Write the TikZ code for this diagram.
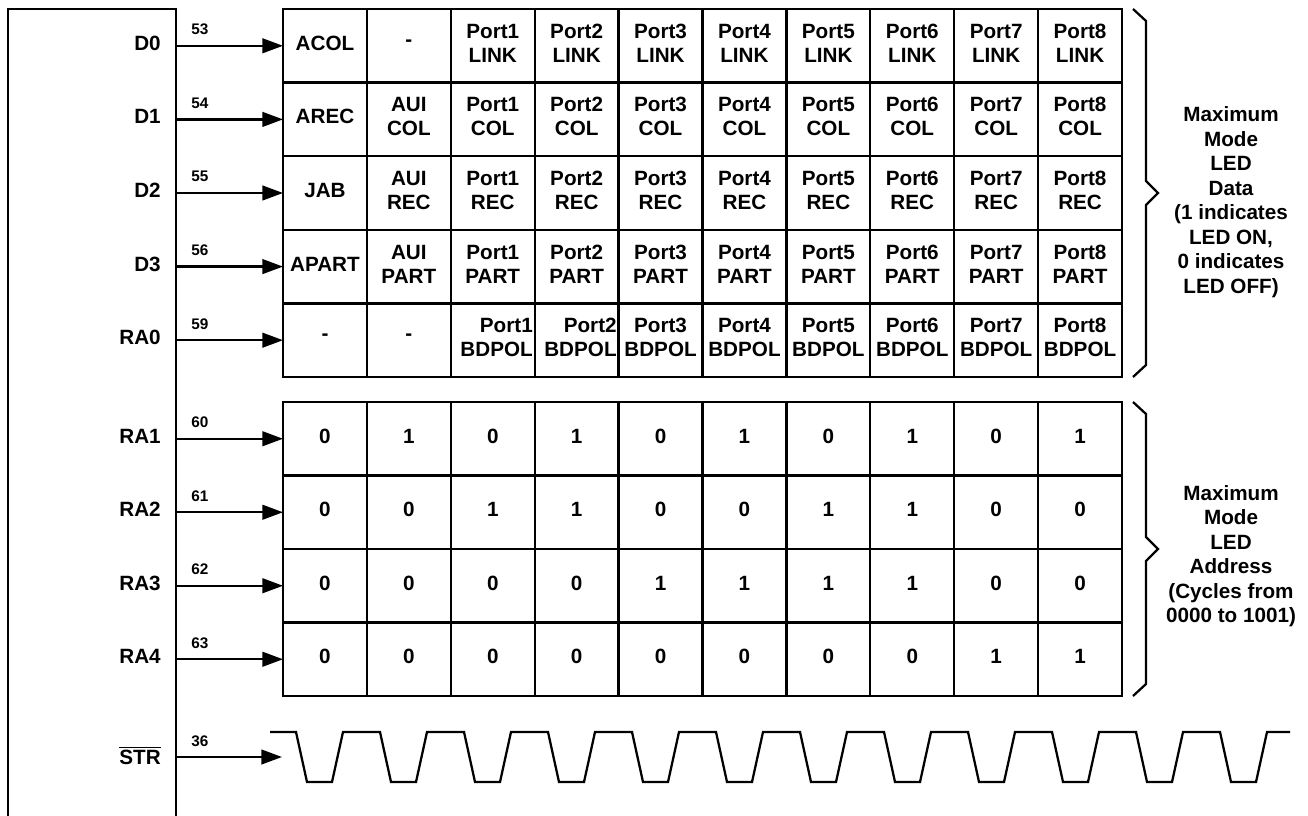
\documentclass[tikz,border=0pt]{standalone}
\usepackage{fontspec}
\setmainfont{Liberation Sans}
\usetikzlibrary{arrows.meta}

\tikzset{
  cell/.style={draw, line width=1.7pt, minimum width=62.925pt, minimum height=55.2pt,
    inner sep=0pt, outer sep=0pt, text depth=4pt, align=center, font=\fontsize{15.5}{18}\selectfont\bfseries},
  pinname/.style={anchor=base east, inner sep=0pt, font=\fontsize{15.5}{18}\selectfont\bfseries},
  pinnum/.style={anchor=base west, inner sep=0pt, font=\fontsize{11.5}{13}\selectfont\bfseries},
  sig/.style={line width=1.7pt, -{Triangle[length=15.5pt,width=11pt]}},
  wire/.style={line width=1.7pt},
  note/.style={align=center, inner sep=0pt, font=\fontsize{15.5}{18.4}\selectfont\bfseries}
}

\begin{document}
\begin{tikzpicture}[x=0.75pt,y=0.75pt,yscale=-1,xscale=1]
\useasboundingbox (0,0) rectangle (1308,816);

%Shape: chip outline
\draw [wire] (8,816) -- (8,9) -- (176,9) -- (176,816);

%Table: LED data, rows D0 - D3
\foreach \r/\pin/\num/\ca/\cb/\sig in {1/D0/53/ACOL/-/LINK,2/D1/54/AREC/AUI\\COL/COL,3/D2/55/JAB/AUI\\REC/REC,4/D3/56/APART/AUI\\PART/PART}{
  \node [cell] (d-\r-1) at (324.95,{9+73.6*(\r-0.5)}) {\ca};
  \node [cell] (d-\r-2) at (408.85,{9+73.6*(\r-0.5)}) {\cb};
  \foreach \c [evaluate=\c as \x using 283+83.9*(\c+1.5)] in {1,...,8}
    \node [cell] (d-\r-\c-port) at (\x,{9+73.6*(\r-0.5)}) {Port\c\\\sig};
  % pin and arrow
  \coordinate (p-\pin) at (176,{9+73.6*(\r-0.5)});
  \node [pinname] (n-\pin) at (161,{9+73.6*(\r-0.5)+4.5}) {\pin};
  \node [pinnum] (num-\num) at (191,{9+73.6*(\r-0.5)-11}) {\num};
  \draw [sig] (p-\pin) -- (d-\r-1.west);
}

%Table: LED data, row RA0
\node [cell] (d-5-1) at (324.95,340.2) {-};
\node [cell] (d-5-2) at (408.85,340.2) {-};
\node [cell, text width=60pt, text depth=22pt, align=right] (d-5-1-port) at (492.75,340.2) {Port1\\BDPOL};
\node [cell, text width=60pt, text depth=22pt, align=right] (d-5-2-port) at (576.65,340.2) {Port2\\BDPOL};
\foreach \c [evaluate=\c as \x using 283+83.9*(\c+1.5)] in {3,...,8}
  \node [cell] (d-5-\c-port) at (\x,340.2) {Port\c\\BDPOL};
\coordinate (p-RA0) at (176,340.2);
\node [pinname] (n-RA0) at (161,344.7) {RA0};
\node [pinnum] (num-59) at (191,329.2) {59};
\draw [sig] (p-RA0) -- (d-5-1.west);

%Table: LED address, rows RA1 - RA4
\foreach \r/\pin/\num/\bits in {1/RA1/60/{0,1,0,1,0,1,0,1,0,1},2/RA2/61/{0,0,1,1,0,0,1,1,0,0},3/RA3/62/{0,0,0,0,1,1,1,1,0,0},4/RA4/63/{0,0,0,0,0,0,0,0,1,1}}{
  \foreach \b [count=\c, evaluate=\c as \x using 283+83.9*(\c-0.5)] in \bits
    \node [cell] (a-\r-\c) at (\x,{402+73.5*(\r-0.5)}) {\b};
  \coordinate (p-\pin) at (176,{402+73.5*(\r-0.5)});
  \node [pinname] (n-\pin) at (161,{402+73.5*(\r-0.5)+4.5}) {\pin};
  \node [pinnum] (num-\num) at (191,{402+73.5*(\r-0.5)-11}) {\num};
  \draw [sig] (p-\pin) -- (a-\r-1.west);
}

%Strobe input
\coordinate (p-STR) at (176,757);
\coordinate (strobe) at (282,757);
\node [pinname] (n-STR) at (161,764) {$\overline{\mbox{STR}}$};
\node [pinnum] (num-36) at (191,746) {36};
\draw [sig] (p-STR) -- (strobe);
%Waveform
\draw [wire] (270,732) foreach \k in {0,...,11} { -- ({296+84*\k},732) -- ({307+84*\k},782) -- ({332+84*\k},782) -- ({343+84*\k},732) } -- (1290,732);

%Braces
\draw [wire] (1133,9) -- (1146,21) -- (1146,181) -- (1158,193) -- (1146,205) -- (1146,365) -- (1133,377);
\draw [wire] (1133,402) -- (1146,414) -- (1146,537) -- (1158,549) -- (1146,561) -- (1146,684) -- (1133,696);

% Text Node
\node [note] (data-note) at (1231,202) {Maximum\\Mode\\LED\\Data\\(1 indicates\\LED ON,\\0 indicates\\LED OFF)};
% Text Node
\node [note] (addr-note) at (1231,556) {Maximum\\Mode\\LED\\Address\\(Cycles from\\0000 to 1001)};

\end{tikzpicture}
\end{document}
